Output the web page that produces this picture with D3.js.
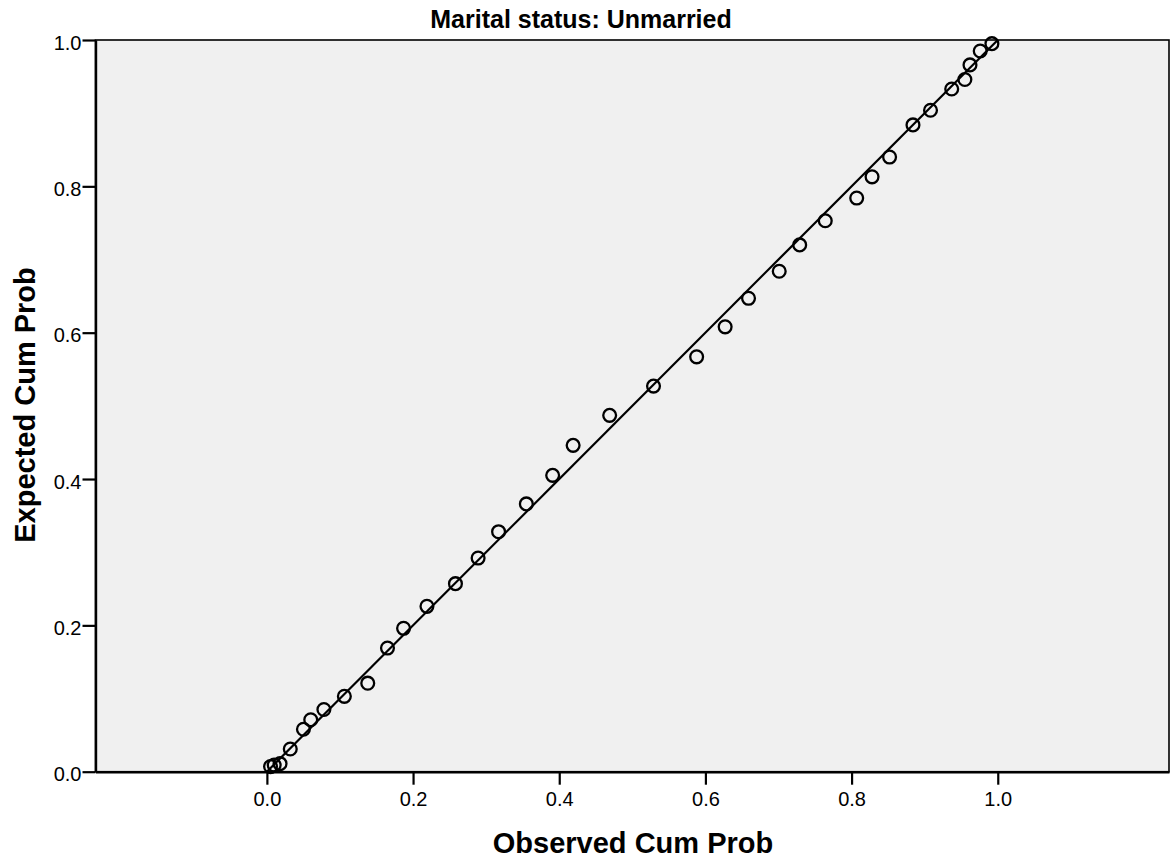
<!DOCTYPE html>
<html>
<head>
<meta charset="utf-8">
<script src="https://cdn.jsdelivr.net/npm/d3@7"></script>
<style>
  html, body { margin: 0; padding: 0; background: #fff; }
  svg { display: block; font-family: "Liberation Sans", Arial, sans-serif; }
</style>
</head>
<body>
<svg id="chart" width="1172" height="859"></svg>
<script>
// P-P plot: observed vs expected cumulative probability
const chartTitle = "Marital status: Unmarried";
const xTitle = "Observed Cum Prob";
const yTitle = "Expected Cum Prob";

const observed = [0.005, 0.010, 0.018, 0.032, 0.050, 0.060, 0.078, 0.106, 0.138, 0.165,
                  0.187, 0.219, 0.258, 0.289, 0.317, 0.355, 0.391, 0.419, 0.469, 0.529,
                  0.588, 0.627, 0.659, 0.701, 0.729, 0.764, 0.807, 0.828, 0.852, 0.884,
                  0.908, 0.937, 0.955, 0.962, 0.976, 0.992];
const expected = [0.007, 0.009, 0.011, 0.031, 0.058, 0.071, 0.085, 0.103, 0.121, 0.169,
                  0.196, 0.226, 0.257, 0.292, 0.328, 0.366, 0.405, 0.446, 0.487, 0.527,
                  0.567, 0.608, 0.647, 0.684, 0.720, 0.753, 0.784, 0.813, 0.840, 0.884,
                  0.904, 0.933, 0.946, 0.966, 0.985, 0.995];
const xTicks = [0.0, 0.2, 0.4, 0.6, 0.8, 1.0];
const yTicks = [0.0, 0.2, 0.4, 0.6, 0.8, 1.0];
const refLine = [0, 1];

const svg = d3.select("#chart");
const plotL = 95.5, plotR = 1169, plotT = 40, plotB = 771.7;

const x = d3.scaleLinear().domain([-0.2345, 1.2343]).range([plotL, plotR]);
const y = d3.scaleLinear().domain([0, 1]).range([plotB, plotT]);

// plot background
svg.append("rect")
  .attr("x", plotL).attr("y", plotT)
  .attr("width", plotR - plotL).attr("height", plotB - plotT)
  .attr("fill", "#f0f0f0")
  .attr("stroke", "#000").attr("stroke-width", 1.6);

// axes
const xAxis = svg.append("g")
  .attr("transform", `translate(0,${plotB})`)
  .call(d3.axisBottom(x).tickValues(xTicks).tickFormat(d3.format(".1f")).tickSize(13).tickSizeOuter(0));
const yAxis = svg.append("g")
  .attr("transform", `translate(${plotL},0)`)
  .call(d3.axisLeft(y).tickValues(yTicks).tickFormat(d3.format(".1f")).tickSize(13).tickSizeOuter(0));

[xAxis, yAxis].forEach(g => {
  g.attr("font-size", null).attr("font-family", null);
  g.select(".domain").attr("stroke", "#000").attr("stroke-width", 2.4);
  g.selectAll(".tick line").attr("stroke", "#000").attr("stroke-width", 2.2);
  g.selectAll(".tick text")
    .attr("fill", "#000")
    .style("font-size", "20px")
    .style("font-family", "'Liberation Sans', Arial, sans-serif");
});
xAxis.selectAll(".tick text").attr("dy", null).attr("y", 34.3);
yAxis.selectAll(".tick text").attr("x", -14).attr("dy", "0.45em");

// reference diagonal
svg.append("line")
  .attr("x1", x(refLine[0])).attr("y1", y(refLine[0]))
  .attr("x2", x(refLine[1])).attr("y2", y(refLine[1]))
  .attr("stroke", "#000").attr("stroke-width", 2.2);

// points
svg.append("g").selectAll("circle")
  .data(observed.map((o, i) => [o, expected[i]]))
  .join("circle")
  .attr("cx", d => x(d[0]))
  .attr("cy", d => y(d[1]))
  .attr("r", 6.4)
  .attr("fill", "none")
  .attr("stroke", "#000")
  .attr("stroke-width", 2.3);

// titles
svg.append("text")
  .attr("x", 581).attr("y", 28)
  .attr("text-anchor", "middle")
  .style("font-size", "25px").style("font-weight", "bold")
  .text(chartTitle);

svg.append("text")
  .attr("x", 633).attr("y", 853)
  .attr("text-anchor", "middle")
  .style("font-size", "29px").style("font-weight", "bold")
  .text(xTitle);

svg.append("text")
  .attr("transform", "translate(35,405) rotate(-90)")
  .attr("text-anchor", "middle")
  .style("font-size", "29px").style("font-weight", "bold")
  .text(yTitle);
</script>
</body>
</html>
